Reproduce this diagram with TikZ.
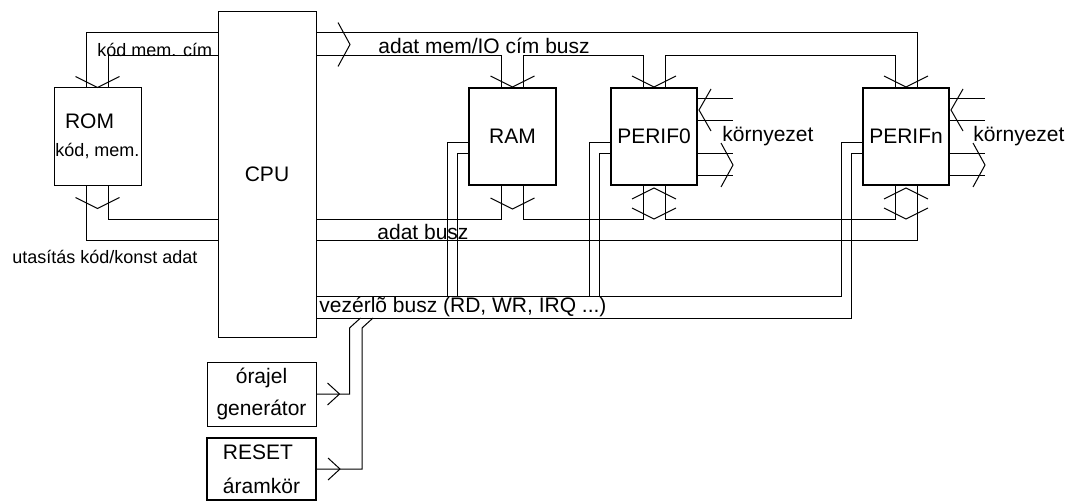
\documentclass[tikz,border=0pt]{standalone}
\usepackage{fontspec}
\setmainfont{Liberation Sans}
\usetikzlibrary{calc}

\begin{document}
\begin{tikzpicture}[
    x=0.5pt, y=-0.5pt,
    wire/.style={line width=0.5pt},
    box/.style={rectangle, draw, line width=0.5pt, inner sep=0pt, align=center, font=\fontsize{10.5}{16}\selectfont},
    heavybox/.style={box, line width=1pt},
    lbl/.style={inner sep=0pt, anchor=west, font=\fontsize{10.5}{13}\selectfont},
    smalllbl/.style={lbl, font=\fontsize{9}{11}\selectfont},
    chevdown/.pic={\draw[wire] (-22,-11) -- (0,0) -- (22,-11);},
    chevup/.pic={\draw[wire] (-22,11) -- (0,0) -- (22,11);},
    chevright/.pic={\draw[wire] (-12,-22) -- (0,0) -- (-12,22);},
    chevleft/.pic={\draw[wire] (12,-21) -- (0,0) -- (12,21);}
]
\path[fill=white] (0,0) rectangle (1068,502);
% units
\node[box, minimum width=43.5pt, minimum height=48.5pt, font=\fontsize{10.5}{14}\selectfont] (rom) at (97.5,136.5) {ROM\hspace*{8pt}\\{\fontsize{9}{14}\selectfont kód, mem.}};
\node[box, minimum width=49pt, minimum height=162.5pt] (cpu) at (267,174.5) {CPU};
\node[heavybox, minimum width=43.5pt, minimum height=48.5pt] (ram) at (512.5,136.5) {RAM};
\node[heavybox, minimum width=43pt, minimum height=48.5pt] (perif0) at (654,136.5) {PERIF0};
\node[heavybox, minimum width=43pt, minimum height=48.5pt] (perifn) at (906,136.5) {PERIFn};
\node[box, minimum width=54.5pt, minimum height=32pt] (orajel) at (261.5,394) {órajel\\generátor};
\node[heavybox, minimum width=54.5pt, minimum height=31pt, align=left, font=\fontsize{10.5}{17}\selectfont] (reset) at (261.5,469) {RESET\\áramkör};

% bus levels
\coordinate (abusA) at (0,33);
\coordinate (abusB) at (0,56);
\coordinate (dbusA) at (0,219);
\coordinate (dbusB) at (0,240);
\coordinate (cbusA) at (0,296);
\coordinate (cbusB) at (0,318);
\foreach \b in {rom,ram,perif0,perifn} {
    \coordinate (\b-nl) at ($(\b.north)+(-11,0)$);
    \coordinate (\b-nr) at ($(\b.north)+(11,0)$);
    \coordinate (\b-sl) at ($(\b.south)+(-11,0)$);
    \coordinate (\b-sr) at ($(\b.south)+(11,0)$);
}

% address bus
\draw[wire] (cpu.west |- abusA) -| (rom-nl);
\draw[wire] (cpu.west |- abusB) -| (rom-nr);
\draw[wire] (cpu.east |- abusA) -| (perifn-nr);
\draw[wire] (cpu.east |- abusB) -| (ram-nl);
\draw[wire] (ram-nr) |- (perif0-nl |- abusB) -- (perif0-nl);
\draw[wire] (perif0-nr) |- (perifn-nl |- abusB) -- (perifn-nl);
\pic at (350,44.5) {chevright};

% data bus
\draw[wire] (rom-sr) |- (cpu.west |- dbusA);
\draw[wire] (rom-sl) |- (cpu.west |- dbusB);
\draw[wire] (cpu.east |- dbusA) -| (ram-sl);
\draw[wire] (ram-sr) |- (perif0-sl |- dbusA) -- (perif0-sl);
\draw[wire] (perif0-sr) |- (perifn-sl |- dbusA) -- (perifn-sl);
\draw[wire] (cpu.east |- dbusB) -| (perifn-sr);

% chevrons at the units
\foreach \b in {rom,ram,perif0,perifn} \pic at (\b.north) {chevdown};
\foreach \b in {rom,ram} \pic at ($(\b.south)+(0,23)$) {chevdown};
\foreach \b in {perif0,perifn} {
    \pic at ($(\b.south)+(0,2)$) {chevup};
    \pic at ($(\b.south)+(0,33)$) {chevdown};
}

% control bus
\foreach \b in {ram,perif0} {
    \draw[wire] ($(\b.west)+(0,6.5)$) -- ++(-21,0) coordinate (t) -- (t |- cbusA);
    \draw[wire] ($(\b.west)+(0,17.5)$) -- ++(-11,0) coordinate (t) -- (t |- cbusA);
}
\draw[wire] ($(perifn.west)+(0,6.5)$) -- ++(-21,0) |- (cpu.east |- cbusA);
\draw[wire] ($(perifn.west)+(0,17.5)$) -- ++(-11,0) |- (cpu.east |- cbusB);
\draw[wire] (orajel.east) -| ++(33,-66) -- ++(11,-10);
\draw[wire] (reset.east) -| ++(45,-141) -- ++(11,-10);
\pic[yscale=0.5] at ($(orajel.east)+(23,0)$) {chevright};
\pic[yscale=0.5] at ($(reset.east)+(23,0)$) {chevright};

% environment
\foreach \b in {perif0,perifn} {
    \foreach \dy in {-37.5,-15.5,17.5,39.5}
        \draw[wire] ($(\b.east)+(0,\dy)$) -- ++(35,0);
    \pic at ($(\b.east)+(1,-26.5)$) {chevleft};
    \pic at ($(\b.east)+(35,28.5)$) {chevright};
}

% labels
\node[smalllbl] (lcode) at (97,50) {kód mem. cím};
\node[smalllbl] (linstr) at (12,257) {utasítás kód/konst adat};
\node[lbl] (laddr) at (378,46) {adat mem/IO cím busz};
\node[lbl] (ldata) at (377,231.5) {adat busz};
\node[lbl] (lctrl) at (319,307) {vezérlõ busz (RD, WR, IRQ ...)};
\node[lbl] (lenv0) at (722,136.5) {környezet};
\node[lbl] (lenvn) at (973,136.5) {környezet};
\end{tikzpicture}
\end{document}
